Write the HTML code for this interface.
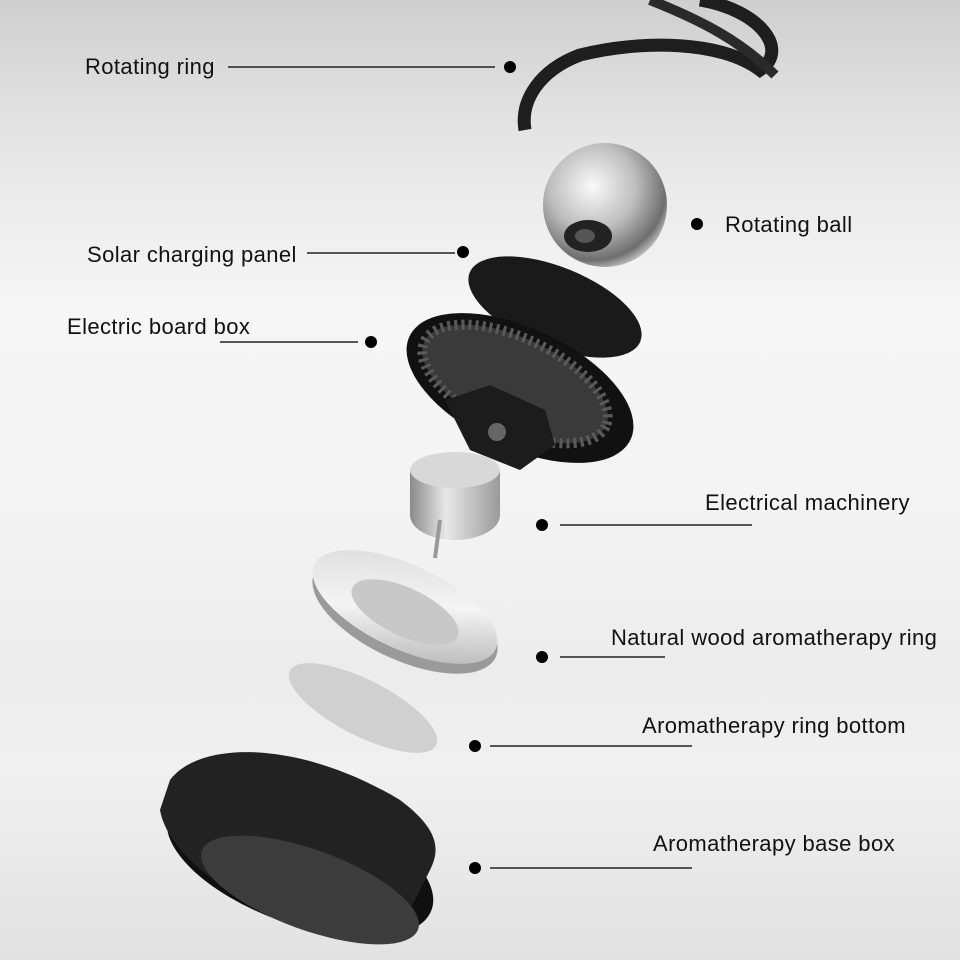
<!DOCTYPE html>
<html><head><meta charset="utf-8"><style>
html,body{margin:0;padding:0}
body{width:960px;height:960px;overflow:hidden;background:linear-gradient(180deg,#cfcfcf 0%,#e6e6e6 15%,#f6f6f6 32%,#f3f3f3 55%,#ececec 70%,#f0f0f0 80%,#e2e2e2 100%);font-family:"Liberation Sans",sans-serif}
svg{position:absolute;left:0;top:0}
</style></head><body>
<svg width="960" height="960" viewBox="0 0 960 960">
<defs>
<radialGradient id="ball" cx="0.4" cy="0.35" r="0.7"><stop offset="0" stop-color="#fafafa"/><stop offset="0.5" stop-color="#bdbdbd"/><stop offset="0.85" stop-color="#6e6e6e"/><stop offset="1" stop-color="#d0d0d0"/></radialGradient>
<linearGradient id="silver" x1="0" y1="0" x2="1" y2="0"><stop offset="0" stop-color="#8a8a8a"/><stop offset="0.4" stop-color="#e8e8e8"/><stop offset="1" stop-color="#9a9a9a"/></linearGradient>
<linearGradient id="ring" x1="0" y1="0" x2="1" y2="1"><stop offset="0" stop-color="#d8d8d8"/><stop offset="0.5" stop-color="#f4f4f4"/><stop offset="1" stop-color="#a8a8a8"/></linearGradient>
</defs>
<path d="M700 0 C760 10 790 50 760 70 C720 40 640 40 580 55 C540 70 520 100 525 130" fill="none" stroke="#1e1e1e" stroke-width="13"/>
<path d="M650 0 C700 20 740 40 775 75" fill="none" stroke="#2a2a2a" stroke-width="10"/>
<circle cx="605" cy="205" r="62" fill="url(#ball)"/>
<ellipse cx="588" cy="236" rx="24" ry="16" fill="#222"/>
<ellipse cx="585" cy="236" rx="10" ry="7" fill="#555"/>
<ellipse cx="555" cy="307" rx="92" ry="40" transform="rotate(22 555 307)" fill="#1a1a1a"/>
<ellipse cx="520" cy="388" rx="122" ry="60" transform="rotate(25 520 388)" fill="#111"/>
<ellipse cx="515" cy="384" rx="100" ry="46" transform="rotate(25 515 384)" fill="#3a3a3a"/>
<ellipse cx="515" cy="384" rx="100" ry="46" transform="rotate(25 515 384)" fill="none" stroke="#5a5a5a" stroke-width="10" stroke-dasharray="3 4"/>
<path d="M445 400 L490 385 L545 410 L555 445 L520 470 L470 450 Z" fill="#1c1c1c"/>
<circle cx="497" cy="432" r="9" fill="#666"/>
<path d="M410 470 L410 515 A45 25 0 0 0 500 515 L500 470 Z" fill="url(#silver)"/>
<ellipse cx="455" cy="470" rx="45" ry="18" fill="#d8d8d8"/>
<line x1="440" y1="520" x2="435" y2="558" stroke="#999" stroke-width="4"/>
<ellipse cx="405" cy="615" rx="100" ry="45" transform="rotate(25 405 615)" fill="#9a9a9a"/>
<ellipse cx="405" cy="607" rx="100" ry="42" transform="rotate(25 405 607)" fill="url(#ring)"/>
<ellipse cx="405" cy="612" rx="58" ry="24" transform="rotate(25 405 612)" fill="#c8c8c8"/>
<ellipse cx="363" cy="708" rx="82" ry="28" transform="rotate(27 363 708)" fill="#d0d0d0"/>
<ellipse cx="300" cy="862" rx="140" ry="62" transform="rotate(20 300 862)" fill="#0f0f0f"/>
<path d="M170 780 C200 740 300 740 400 800 C440 830 440 850 430 870 L410 910 C380 930 330 935 260 905 C200 880 165 840 160 810 Z" fill="#222"/>
<ellipse cx="310" cy="890" rx="115" ry="40" transform="rotate(20 310 890)" fill="#3c3c3c"/>
<g stroke="#222" stroke-width="1.5">
<line x1="228" y1="67" x2="495" y2="67"/>
<line x1="307" y1="253" x2="455" y2="253"/>
<line x1="220" y1="342" x2="358" y2="342"/>
<line x1="560" y1="525" x2="752" y2="525"/>
<line x1="560" y1="657" x2="665" y2="657"/>
<line x1="490" y1="746" x2="692" y2="746"/>
<line x1="490" y1="868" x2="692" y2="868"/>
</g>
<g fill="#000">
<circle cx="510" cy="67" r="6"/><circle cx="697" cy="224" r="6"/><circle cx="463" cy="252" r="6"/>
<circle cx="371" cy="342" r="6"/><circle cx="542" cy="525" r="6"/><circle cx="542" cy="657" r="6"/>
<circle cx="475" cy="746" r="6"/><circle cx="475" cy="868" r="6"/>
</g>
<g font-family="Liberation Sans, sans-serif" font-size="22" fill="#111" letter-spacing="0.4">
<text x="85" y="74">Rotating ring</text>
<text x="725" y="232">Rotating ball</text>
<text x="87" y="262">Solar charging panel</text>
<text x="67" y="334">Electric board box</text>
<text x="705" y="510">Electrical machinery</text>
<text x="611" y="645">Natural wood aromatherapy ring</text>
<text x="642" y="733">Aromatherapy ring bottom</text>
<text x="653" y="851">Aromatherapy base box</text>
</g>
</svg>
</body></html>
